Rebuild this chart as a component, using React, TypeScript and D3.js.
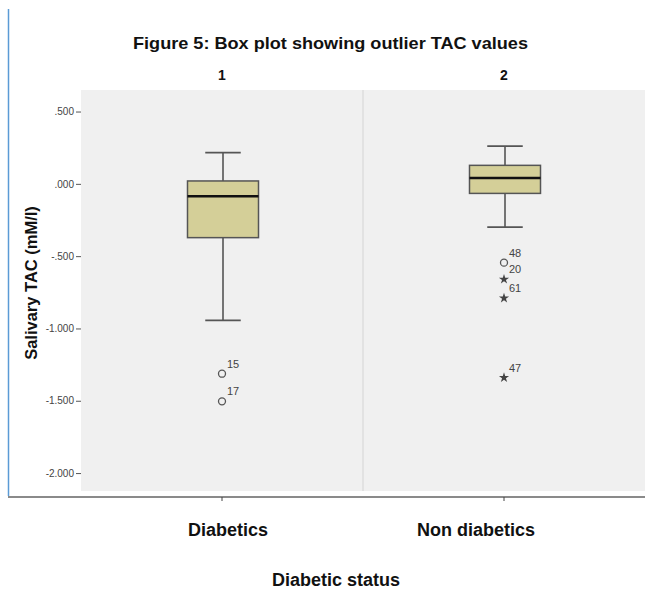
import React, { useRef, useEffect } from 'react';
import * as d3 from 'd3';

// panel / category info
const panels = ['1', '2'];
const categories = ['Diabetics', 'Non diabetics'];

// box stats: [lowerWhisker, q1, median, q3, upperWhisker]
const boxStats = [
  [-0.944, -0.372, -0.086, 0.02, 0.216],
  [-0.299, -0.066, 0.04, 0.128, 0.261],
];

// outliers: value, case label, kind (o = mild, * = extreme)
const outlierValues = [
  [-1.313, -1.504],
  [-0.545, -0.66, -0.79, -1.34],
];
const outlierLabels = [
  ['15', '17'],
  ['48', '20', '61', '47'],
];
const outlierKinds = [
  ['o', 'o'],
  ['o', '*', '*', '*'],
];

const yTicks = [0.5, 0, -0.5, -1, -1.5, -2];

const Chart = () => {
  const chartRef = useRef<SVGSVGElement>(null);

  useEffect(() => {
    draw();
  }, []);

  const draw = () => {
    const svg = d3.select(chartRef.current);
    svg.selectAll('*').remove();

    const width = 645;
    const height = 589;
    const plot = { left: 81, right: 645, top: 90, bottom: 491 };
    const labelShift = [6, -28]; // category labels sit a bit off their ticks

    const x = d3
      .scaleBand()
      .domain(categories)
      .range([plot.left, plot.right])
      .padding(0);

    const y = d3.scaleLinear().domain([-2.124, 0.649]).range([plot.bottom, plot.top]);

    svg.append('rect').attr('width', width).attr('height', height).attr('fill', '#fff');

    // frame lines
    svg
      .append('line')
      .attr('x1', 8.5).attr('x2', 8.5).attr('y1', 9).attr('y2', 496)
      .attr('stroke', '#5b9bd5').attr('stroke-width', 1.5);
    svg
      .append('line')
      .attr('x1', 8).attr('x2', width).attr('y1', 497).attr('y2', 497)
      .attr('stroke', '#8a8a8a').attr('stroke-width', 2);

    // title
    svg
      .append('text')
      .attr('x', 133).attr('y', 49)
      .attr('textLength', 395)
      .attr('lengthAdjust', 'spacingAndGlyphs')
      .attr('font-family', 'Liberation Sans, Arial, sans-serif')
      .attr('font-weight', 'bold').attr('font-size', 17)
      .attr('fill', '#111')
      .text('Figure 5: Box plot showing outlier TAC values');

    // panel backgrounds
    const g = svg.append('g');
    categories.forEach((c, i) => {
      g.append('rect')
        .attr('x', x(c)!)
        .attr('y', plot.top)
        .attr('width', x.bandwidth())
        .attr('height', plot.bottom - plot.top)
        .attr('fill', '#f0f0f0');
      g.append('text')
        .attr('x', x(c)! + x.bandwidth() / 2)
        .attr('y', 80)
        .attr('text-anchor', 'middle')
        .attr('font-family', 'Liberation Sans, Arial, sans-serif')
        .attr('font-weight', 'bold').attr('font-size', 14)
        .attr('fill', '#111')
        .text(panels[i]);
    });
    g.append('line')
      .attr('x1', x(categories[1])!).attr('x2', x(categories[1])!)
      .attr('y1', plot.top).attr('y2', plot.bottom)
      .attr('stroke', '#dedede').attr('stroke-width', 1.5);

    // y axis
    const fmt = (d: number) =>
      d3.format('.3f')(d).replace('\u2212', '-').replace(/^(-?)0\./, '$1.');
    const yAxis = d3.axisLeft(y).tickValues(yTicks).tickSize(5).tickFormat(fmt as any);
    const ya = svg.append('g').attr('transform', `translate(${plot.left},0)`).call(yAxis);
    ya.select('.domain').remove();
    ya.selectAll('line').attr('stroke', '#555');
    ya.selectAll('text')
      .attr('font-family', 'Liberation Sans, Arial, sans-serif')
      .attr('font-size', 10).attr('fill', '#444').attr('x', -7);

    svg
      .append('text')
      .attr('transform', `translate(37,283) rotate(-90)`)
      .attr('text-anchor', 'middle')
      .attr('font-family', 'Liberation Sans, Arial, sans-serif')
      .attr('font-weight', 'bold').attr('font-size', 16.5)
      .attr('fill', '#111')
      .text('Salivary TAC (mM/l)');

    // x ticks & labels
    categories.forEach((c, i) => {
      const cx = x(c)! + x.bandwidth() / 2;
      svg.append('line')
        .attr('x1', cx).attr('x2', cx).attr('y1', 497).attr('y2', 501)
        .attr('stroke', '#444').attr('stroke-width', 1);
      svg.append('text')
        .attr('x', cx + labelShift[i]).attr('y', 536)
        .attr('text-anchor', 'middle')
        .attr('font-family', "'Liberation Sans Narrow', 'Liberation Sans', sans-serif")
        .attr('font-weight', 'bold').attr('font-size', 18)
        .attr('fill', '#111')
        .text(c);
    });
    svg.append('text')
      .attr('x', 336).attr('y', 586)
      .attr('text-anchor', 'middle')
      .attr('font-family', "'Liberation Sans Narrow', 'Liberation Sans', sans-serif")
      .attr('font-weight', 'bold').attr('font-size', 18)
      .attr('fill', '#111')
      .text('Diabetic status');

    // boxes
    const boxW = 71;
    categories.forEach((c, i) => {
      const cx = x(c)! + x.bandwidth() / 2 + 1;
      const [lo, q1, med, q3, hi] = boxStats[i];
      const bg = svg.append('g');
      bg.append('line')
        .attr('x1', cx).attr('x2', cx).attr('y1', y(hi)).attr('y2', y(q3))
        .attr('stroke', '#555').attr('stroke-width', 1.6);
      bg.append('line')
        .attr('x1', cx).attr('x2', cx).attr('y1', y(q1)).attr('y2', y(lo))
        .attr('stroke', '#555').attr('stroke-width', 1.6);
      [lo, hi].forEach((v) => {
        bg.append('line')
          .attr('x1', cx - boxW / 4).attr('x2', cx + boxW / 4)
          .attr('y1', y(v)).attr('y2', y(v))
          .attr('stroke', '#555').attr('stroke-width', 1.8);
      });
      bg.append('rect')
        .attr('x', cx - boxW / 2).attr('y', y(q3))
        .attr('width', boxW).attr('height', y(q1) - y(q3))
        .attr('fill', '#d4cf98').attr('stroke', '#555').attr('stroke-width', 1.5);
      bg.append('line')
        .attr('x1', cx - boxW / 2).attr('x2', cx + boxW / 2)
        .attr('y1', y(med)).attr('y2', y(med))
        .attr('stroke', '#111').attr('stroke-width', 2.5);

      // outliers
      outlierValues[i].forEach((v, j) => {
        const py = y(v);
        if (outlierKinds[i][j] === 'o') {
          bg.append('circle')
            .attr('cx', cx - 1).attr('cy', py).attr('r', 3.5)
            .attr('fill', 'none').attr('stroke', '#555').attr('stroke-width', 1.3);
        } else {
          bg.append('path')
            .attr('d', d3.symbol().type(d3.symbolStar).size(32)()!)
            .attr('transform', `translate(${cx - 1},${py})`)
            .attr('fill', '#444');
        }
        bg.append('text')
          .attr('x', cx + 4).attr('y', py - 6)
          .attr('font-family', 'Liberation Sans, Arial, sans-serif')
          .attr('font-size', 11).attr('fill', '#444')
          .text(outlierLabels[i][j]);
      });
    });
  };

  return (
    <svg
      ref={chartRef}
      width={645}
      height={589}
      style={{ position: 'absolute', left: 0, top: 0 }}
    ></svg>
  );
};

export default function App() {
  return <Chart />;
}
